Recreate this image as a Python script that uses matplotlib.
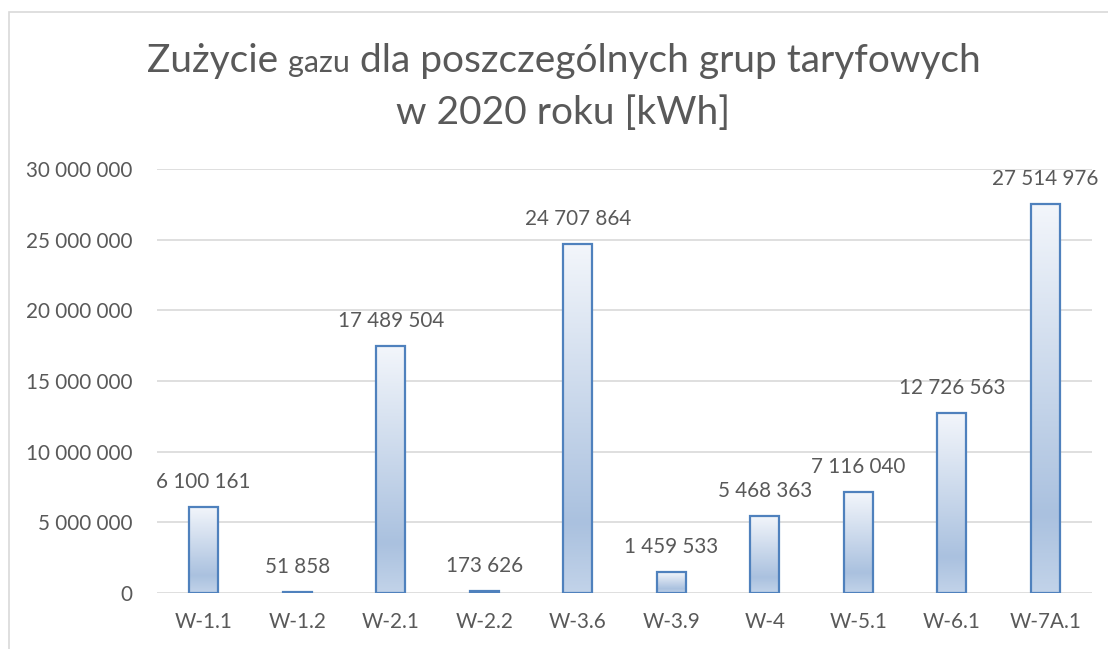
import matplotlib
matplotlib.use("Agg")
import matplotlib.pyplot as plt
import numpy as np
from matplotlib.colors import LinearSegmentedColormap
from matplotlib.patches import Rectangle

categories = ["W-1.1", "W-1.2", "W-2.1", "W-2.2", "W-3.6", "W-3.9", "W-4", "W-5.1", "W-6.1", "W-7A.1"]
values = [6100161, 51858, 17489504, 173626, 24707864, 1459533, 5468363, 7116040, 12726563, 27514976]
yticks = [0, 5000000, 10000000, 15000000, 20000000, 25000000, 30000000]

FONT = ["Lato", "DejaVu Sans"]
TXT = "#595959"
W, H = 1108, 649

def fmt(v):
    return f"{v:,}".replace(",", " ")

fig = plt.figure(figsize=(W / 100, H / 100), dpi=100)
fig.patch.set_facecolor("white")
# chart border
fig.add_artist(Rectangle((9 / W, -0.05), 1.2, 1 - 12 / H + 0.05, transform=fig.transFigure,
                         fill=False, edgecolor="#d9d9d9", linewidth=1.2))

ax = fig.add_axes([157 / W, 1 - 593 / H, (1092 - 157) / W, (593 - 169) / H])
ax.set_xlim(-0.5, len(categories) - 0.5)
ax.set_ylim(0, 30000000)
for s in ax.spines.values():
    s.set_visible(False)
FS = 14.9
ax.set_yticks(yticks)
ax.set_yticklabels([fmt(t) for t in yticks], fontsize=FS, color=TXT, family=FONT)
ax.set_xticks(range(len(categories)))
ax.set_xticklabels(categories, fontsize=FS, color=TXT, family=FONT)
ax.tick_params(axis="both", length=0)
ax.tick_params(axis="y", pad=18)
ax.tick_params(axis="x", pad=14)
ax.grid(axis="y", color="#d9d9d9", linewidth=1.2)
ax.set_axisbelow(True)

cmap = LinearSegmentedColormap.from_list("g", [(0.0, "#f3f6fb"), (0.8, "#aac1df"), (1.0, "#c2d3e9")])
grad = np.linspace(0, 1, 256).reshape(-1, 1)
bw = 0.31
bars = ax.bar(range(len(categories)), values, width=bw, color="none", edgecolor="#4f81bd",
              linewidth=1.6, zorder=3)
for b in bars:
    x0, y0 = b.get_x(), b.get_y()
    w, h = b.get_width(), b.get_height()
    im = ax.imshow(grad, cmap=cmap, aspect="auto", extent=[x0, x0 + w, y0, y0 + h],
                   origin="upper", zorder=2, interpolation="bilinear")
    im.set_clip_path(b)
ax.set_xlim(-0.5, len(categories) - 0.5)
ax.set_ylim(0, 30000000)

for i, v in enumerate(values):
    ax.annotate(fmt(v), (i, v), xytext=(0, 25), textcoords="offset pixels",
                ha="center", va="center", fontsize=FS, color=TXT, family=FONT)

# title with mixed sizes
fig.canvas.draw()
r = fig.canvas.get_renderer()
parts = [("Zużycie ", 28), ("gazu", 22), (" dla poszczególnych grup taryfowych", 28)]
texts = []
for s, fs in parts:
    t = fig.text(0, 1 - 72 / H, s, fontsize=fs, color=TXT, family=FONT, va="baseline", ha="left")
    texts.append(t)
widths = [t.get_window_extent(r).width for t in texts]
total = sum(widths)
start = 564 - total / 2
for t, wdt in zip(texts, widths):
    t.set_x(start / W)
    start += wdt
fig.text(563 / W, 1 - 124 / H, "w 2020 roku [kWh]", fontsize=28, color=TXT, family=FONT,
         va="baseline", ha="center")

fig.savefig("out.png", dpi=100)
